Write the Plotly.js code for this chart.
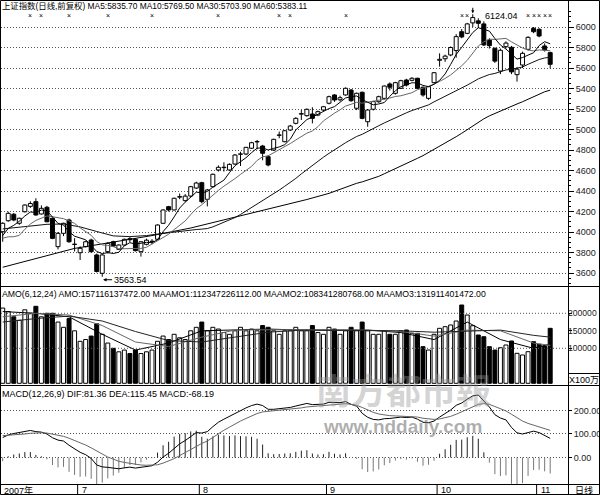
<!DOCTYPE html>
<html><head><meta charset="utf-8">
<script src="https://cdn.plot.ly/plotly-3.0.1.min.js"></script>
<style>body{margin:0;background:#fff}#chart{width:600px;height:495px}</style>
</head><body><div id="chart"></div>
<script>
// ---- price data (daily K line, index i = trading day from 2007-06-12) ----
const open = [4003,4110,4173,4085,4198,4250,4296,4176,4241,4134, 3857,3987,4117,3878,3798,3857,3922,3776,3597,3808,
  3905,3831,3873,3935,3929,3808,3880,3905,3929,4085, 4247,4215,4340,4306,4351,4429,4481,4319,4442,4605,
  4628,4605,4663,4758,4761,4817,4879,4839,4735,4800, 4943,4881,4995,5060,5150,5135,5151,5141,5190,5256,
  5337,5290,5337,5385,5207,5363,5076,5198,5271,5304, 5444,5353,5402,5483,5480,5500,5412,5304,5457,5675,
  5690,5727,5770,5954,5938,6040,6060,6030,5873,5792, 5570,5808,5802,5535,5629,5782,5987,5977,5815,5750];
const high = [4095,4198,4185,4140,4270,4300,4329,4260,4255,4140, 4000,4090,4130,3940,3860,3915,3935,3790,3785,3900,
  3915,3880,3935,3950,3940,3910,3935,3930,4075,4220, 4255,4335,4375,4370,4450,4490,4490,4420,4570,4650,
  4680,4670,4760,4783,4830,4880,4898,4850,4750,4910, 4980,4995,5045,5120,5190,5205,5217,5185,5230,5330,
  5345,5330,5410,5395,5360,5370,5200,5280,5330,5430, 5460,5465,5485,5495,5510,5505,5420,5425,5560,5743,
  5730,5810,5930,5980,6040,6124.04,6085,6055,5890,5800, 5790,5860,5815,5610,5760,5910,6000,5990,5840,5760];
const low = [3905,4100,4105,4070,4190,4235,4160,4170,4095,3930, 3830,3960,3895,3810,3727,3850,3800,3605,3563.54,3790,
  3855,3825,3865,3900,3810,3760,3870,3880,3920,4080, 4200,4210,4320,4295,4340,4420,4280,4250,4435,4590,
  4590,4600,4655,4644,4750,4810,4807,4700,4640,4790, 4915,4875,4985,5050,5093,5125,5060,5130,5180,5245,
  5270,5275,5330,5270,5190,5100,5027,5185,5260,5290, 5380,5340,5395,5420,5470,5395,5320,5290,5450,5613,
  5660,5715,5700,5890,5930,6000,5990,5815,5790,5650, 5540,5790,5540,5467,5600,5770,5940,5900,5760,5597];
const close = [4085,4182,4117,4134,4263,4278,4166,4231,4100,3938, 3987,4085,3905,3882,3841,3905,3808,3615,3776,3889,
  3863,3873,3929,3925,3818,3905,3920,3910,4068,4215, 4215,4329,4345,4350,4442,4478,4296,4410,4563,4631,
  4632,4660,4751,4762,4826,4871,4883,4768,4654,4904, 4945,4988,5034,5109,5155,5197,5109,5174,5222,5320,
  5288,5310,5402,5281,5353,5109,5190,5272,5320,5424, 5412,5457,5476,5434,5500,5402,5337,5418,5554,5685,
  5716,5800,5906,5903,6030,6092,6036,5825,5818,5667, 5773,5843,5562,5589,5743,5899,5954,5912,5777,5636];

const ma5 = [3965,4035,4065,4105,4156,4195,4192,4214,4208,4143, 4084,4068,4003,3959,3940,3924,3868,3810,3789,3799,
  3790,3803,3866,3896,3882,3890,3899,3896,3924,4004, 4066,4147,4234,4291,4336,4389,4382,4395,4438,4476,
  4506,4579,4647,4686,4725,4774,4818,4821,4800,4816, 4830,4852,4905,4996,5046,5097,5121,5149,5171,5204,
  5223,5263,5308,5320,5327,5291,5267,5241,5249,5263, 5324,5377,5418,5441,5456,5454,5430,5418,5442,5479,
  5542,5635,5732,5802,5871,5946,5993,5977,5960,5888, 5824,5785,5733,5687,5702,5727,5749,5819,5857,5836];
const ma10 = [3940,3953,3954,3967,4026,4078,4113,4139,4157,4149, 4140,4130,4109,4084,4041,4004,3968,3907,3874,3869,
  3857,3836,3838,3842,3840,3840,3851,3881,3910,3943, 3978,4023,4065,4108,4170,4227,4265,4315,4364,4406,
  4447,4481,4521,4562,4601,4640,4698,4734,4743,4771, 4802,4835,4863,4898,4931,4964,4986,5027,5084,5125,
  5160,5192,5229,5246,5266,5257,5265,5275,5285,5295, 5307,5322,5329,5345,5359,5389,5403,5418,5441,5468,
  5498,5532,5575,5622,5675,5744,5814,5855,5881,5879, 5885,5889,5855,5824,5795,5776,5767,5776,5772,5769];
const ma30 = [4030,null,null,null,4055,null,null,null,4075,null, null,4078,null,null,4050,null,null,4005,null,null,
  3962,null,null,3955,null,null,3965,null,3980,3987, 3991,3996,4004,4011,4017,4024,4028,4034,4050,4073,
  4094,4113,4141,4171,4204,4236,4271,4310,4339,4373, 4409,4446,4483,4523,4567,4610,4650,4692,4730,4767,
  4803,4836,4871,4902,4932,4953,4983,5012,5037,5064, 5090,5116,5140,5163,5185,5203,5218,5240,5270,5296,
  5322,5349,5378,5404,5433,5463,5494,5516,5536,5547, 5563,5581,5587,5597,5610,5636,5662,5683,5698,5705];
const ma60 = [3656,null,null,null,null,null,null,3755,null,null, null,null,null,3840,null,null,null,null,null,null,
  3902,null,null,null,null,null,null,3965,null,null, null,null,null,null,4039,null,null,null,null,null,
  null,4130,null,null,null,null,null,null,4225,null, null,null,null,null,null,4317,null,null,null,4377,
  4397,4416,4437,4457,4475,4489,4506,4523,4543,4568, 4592,4615,4641,4667,4694,4719,4745,4775,4805,4834,
  4865,4897,4930,4963,5000,5037,5072,5104,5133,5157, 5183,5208,5229,5249,5271,5295,5322,5347,5368,5384];

// ---- amount (AMO, unit 100万) ----
const amo = [215000,205000,190000,180000,210000,200000,220000,190000,200000,200000,
  175000,160000,185000,150000,120000,125000,135000,170000,140000,115000,
  100000,90000,95000,85000,95000,85000,90000,95000,120000,135000,
  125000,140000,130000,125000,150000,160000,175000,150000,160000,155000,
  145000,140000,150000,160000,150000,155000,150000,165000,160000,150000,
  140000,150000,150000,160000,150000,150000,165000,145000,140000,160000,
  155000,140000,150000,160000,150000,175000,150000,140000,140000,150000,
  140000,140000,150000,152300,142800,142800,104600,95100,140000,157100,
  161800,166600,178000,223700,195100,164600,138000,133100,104600,95100,
  101700,109400,120900,85700,80900,90300,118900,111400,106600,157100];
const maamo1 = [205000,null,null,null,null,null,200000,null,null,null,null,null,190000,null,null,null,null,null,140000,null,
  null,null,null,null,95000,null,null,null,null,null,115000,null,null,null,null,null,150000,null,null,null,
  null,null,152000,null,null,null,null,null,155000,null,null,null,null,null,152000,null,null,null,null,null,
  152000,null,null,null,null,null,152000,null,null,null,null,null,145000,null,null,null,null,null,125000,null,
  null,null,null,null,175000,null,null,null,null,null,125000,null,null,null,null,null,100000,null,null,112347];
const maamo2 = [190000,null,null,null,null,null,200000,null,null,null,null,null,195000,null,null,null,null,null,165000,null,
  null,null,null,null,118000,null,null,null,null,null,105000,null,null,null,null,null,132000,null,null,null,
  null,null,152000,null,null,null,null,null,153000,null,null,null,null,null,152000,null,null,null,null,null,
  152000,null,null,null,null,null,152000,null,null,null,null,null,148000,null,null,null,null,null,135000,null,
  null,null,null,null,152000,null,null,null,null,null,150000,null,null,null,null,null,115000,null,null,108341];
const maamo3 = [175000,null,null,null,null,null,185000,null,null,null,null,null,192000,null,null,null,null,null,178000,null,
  null,null,null,null,148000,null,null,null,null,null,122000,null,null,null,null,null,118000,null,null,null,
  null,null,132000,null,null,null,null,null,146000,null,null,null,null,null,152000,null,null,null,null,null,
  152000,null,null,null,null,null,152000,null,null,null,null,null,150000,null,null,null,null,null,146000,null,
  null,null,null,null,150000,null,null,null,null,null,152000,null,null,null,null,null,137000,null,null,131911];

// ---- MACD(12,26,9) ----
const dif = [85,96,102,106,112,115,110,108,100,84, 74,70,52,36,22,12,-4,-32,-40,-42,
  -46,-48,-44,-41,-45,-42,-38,-35,-20,2, 18,40,58,72,90,106,104,110,131,150,
  163,175,190,200,211,221,227,221,205,205, 207,210,213,219,225,230,225,225,227,235,
  233,233,238,226,219,188,171,162,160,165, 166,170,172,170,172,163,150,148,155,172,
  186,202,222,232,248,262,266,240,215,182, 168,160,128,105,100,106,112,106,95,81.36];
const dea = [93,94,95,97,100,103,105,105,104,100, 95,90,82,73,63,53,41,27,13,2,
  -7,-16,-21,-25,-29,-32,-33,-33,-31,-24, -16,-5,8,21,35,49,60,70,86,101,
  116,129,143,155,166,177,187,194,196,198, 200,202,204,207,211,215,217,218,220,223,
  225,227,229,226,222,213,202,192,185,181, 178,177,176,175,174,172,167,164,162,164,
  168,175,184,194,205,216,226,229,226,217, 208,198,184,168,155,145,138,132,124,115.45];
const macd = [-16,5,13,17,23,23,11,5,-8,-32, -42,-40,-61,-74,-82,-81,-91,-117,-107,-89,
  -77,-65,-46,-32,-32,-21,-10,-3,21,52, 67,89,100,103,111,114,88,80,90,97,
  94,91,94,91,90,88,80,55,18,14, 15,17,18,24,29,31,17,13,14,24,
  16,13,18,0,-6,-50,-62,-59,-51,-33, -24,-13,-7,-9,-4,-18,-35,-31,-14,16,
  35,54,75,76,86,92,80,22,-22,-71, -79,-76,-112,-126,-109,-78,-53,-52,-59,-68.19];

// ---- labels ----
const titleText = '上证指数(日线,前复权) MA5:5835.70 MA10:5769.50 MA30:5703.90 MA60:5383.11';
const amoText = 'AMO(6,12,24) AMO:157116137472.00 MAAMO1:112347226112.00 MAAMO2:108341280768.00 MAAMO3:131911401472.00';
const macdText = 'MACD(12,26,9) DIF:81.36 DEA:115.45 MACD:-68.19';
const priceTicks = [3600,3800,4000,4200,4400,4600,4800,5000,5200,5400,5600,5800,6000];
const amoTicks = [100000,150000,200000];
const macdTicks = [0,100,200];
const monthIdx = [14,36,59,79,97];
const monthLabels = ['7','8','9','10','11'];
const markIdx = [5,7,12,19,27,39,50,52,62,83,84,95,96,97,98,99];
const lowIdx = 18, highIdx = 85;

// ---- build traces ----
const idx = close.map((_, i) => i);
const isUp = idx.map(i => close[i] >= open[i]);
const wx = [], wy = [];
idx.forEach(i => {
  const t = Math.max(open[i], close[i]), b = Math.min(open[i], close[i]);
  wx.push(i, i, null, i, i, null); wy.push(high[i], t, null, b, low[i], null);
});
const FONT = 'Liberation Sans, Arial, Noto Sans CJK SC, sans-serif';
const traces = [
  {type:'scatter', mode:'lines', x:wx, y:wy, line:{color:'#000', width:1}, xaxis:'x', yaxis:'y'},
  {type:'bar', x:idx, base:idx.map(i=>Math.min(open[i],close[i])), y:idx.map(i=>Math.max(Math.abs(close[i]-open[i]),4)),
   width:0.72, marker:{color:isUp.map(u=>u?'#fff':'#000'), line:{color:'#000', width:1}}, xaxis:'x', yaxis:'y'},
  {type:'scatter', mode:'lines', x:idx, y:ma60, connectgaps:true, line:{color:'#000', width:1}, xaxis:'x', yaxis:'y'},
  {type:'scatter', mode:'lines', x:idx, y:ma30, connectgaps:true, line:{color:'#111', width:1}, xaxis:'x', yaxis:'y'},
  {type:'scatter', mode:'lines', x:idx, y:ma10, line:{color:'#666', width:1}, xaxis:'x', yaxis:'y'},
  {type:'scatter', mode:'lines', x:idx, y:ma5, line:{color:'#000', width:1}, xaxis:'x', yaxis:'y'},
  {type:'bar', x:idx, y:amo, width:0.72, marker:{color:isUp.map(u=>u?'#fff':'#000'), line:{color:'#000', width:1}}, xaxis:'x', yaxis:'y2'},
  {type:'scatter', mode:'lines', x:idx, y:maamo1, connectgaps:true, line:{color:'#000', width:1}, xaxis:'x', yaxis:'y2'},
  {type:'scatter', mode:'lines', x:idx, y:maamo2, connectgaps:true, line:{color:'#666', width:1}, xaxis:'x', yaxis:'y2'},
  {type:'scatter', mode:'lines', x:idx, y:maamo3, connectgaps:true, line:{color:'#222', width:1}, xaxis:'x', yaxis:'y2'}
];
const hpx = [], hpy = [], hnx = [], hny = [];
idx.forEach(i => { if (macd[i] >= 0) { hpx.push(i,i,null); hpy.push(0,macd[i],null); } else { hnx.push(i,i,null); hny.push(0,macd[i],null); } });
traces.push({type:'scatter', mode:'lines', x:hpx, y:hpy, line:{color:'#222', width:1}, xaxis:'x', yaxis:'y3'});
traces.push({type:'scatter', mode:'lines', x:hnx, y:hny, line:{color:'#777', width:1}, xaxis:'x', yaxis:'y3'});
traces.push({type:'scatter', mode:'lines', x:idx, y:dif, line:{color:'#000', width:1}, xaxis:'x', yaxis:'y3'});
traces.push({type:'scatter', mode:'lines', x:idx, y:dea, line:{color:'#666', width:1}, xaxis:'x', yaxis:'y3'});

// ---- layout ----
const W = 600, H = 495;
const PX = v => v / W, PY = v => 1 - v / H;
const XR = [-0.307, 102.22];
const minorVals = [];
for (let v = 3500; v <= 6200; v += 50) if (v % 200 !== 0) minorVals.push(v);
const tickFont = {family: FONT, size: 9, color: '#222'};
const ann = (text, x, y, xa, ya, extra) => Object.assign({xref:'paper', yref:'paper', x:PX(x), y:PY(y), text, showarrow:false, xanchor:xa, yanchor:ya, font:{family:FONT, size:9, color:'#000'}, borderpad:0}, extra||{});
const annotations = [
  ann(titleText, 1, 0, 'left', 'top', {font:{family:FONT, size:8.4, color:'#000'}}),
  ann(amoText, 1, 288, 'left', 'top', {font:{family:FONT, size:8.7, color:'#000'}}),
  ann(macdText, 1, 388, 'left', 'top'),
  ann('X100万', 584, 380, 'center', 'middle'),
  ann('日线', 584, 490, 'center', 'middle'),
  ann('2007年', 3, 490, 'left', 'middle'),
  {xref:'x', yref:'y', x:lowIdx+0.15, y:low[lowIdx], ax:9, ay:0, axref:'pixel', ayref:'pixel', text:'3563.54', showarrow:true, arrowhead:2, arrowsize:0.7, arrowwidth:1, arrowcolor:'#000', standoff:0, xanchor:'left', yanchor:'middle', yshift:-3, font:{family:FONT,size:9,color:'#000'}},
  {xref:'x', yref:'y', x:highIdx+1.9, y:high[highIdx], text:'6124.04', showarrow:false, xanchor:'left', yanchor:'middle', font:{family:FONT,size:9,color:'#000'}, yshift:-2},
  {xref:'x', yref:'y', x:highIdx, y:high[highIdx], ax:0, ay:-8, text:'', showarrow:true, arrowhead:2, arrowsize:0.6, arrowwidth:1, arrowcolor:'#000', standoff:1},
  ann('南方都市報', 403, 388, 'center', 'middle', {font:{family:'Noto Sans CJK TC, Noto Sans CJK SC', size:35, color:'rgba(150,150,150,0.42)', weight:700}}),
  ann('www.nddaily.com', 402, 426, 'center', 'middle', {font:{family:'Liberation Sans, Arial', size:19, color:'rgba(120,120,120,0.6)', weight:700}})
];
amoTicks.forEach(v => annotations.push({xref:'paper', yref:'y2', x:PX(599), y:v, text:String(v), showarrow:false, xanchor:'right', yanchor:'middle', font:{family:FONT, size:8.6, color:'#222'}}));
monthIdx.forEach((m, k) => annotations.push({xref:'x', yref:'paper', x:m-0.1, y:PY(490), text:monthLabels[k], showarrow:false, xanchor:'left', yanchor:'middle', font:{family:FONT,size:9,color:'#000'}}));
markIdx.forEach(m => annotations.push({xref:'x', yref:'paper', x:m, y:PY(16), text:'×', showarrow:false, xanchor:'center', yanchor:'middle', font:{family:FONT,size:7,color:'#000'}}));

const line = (x0,y0,x1,y1,extra) => Object.assign({type:'line', xref:'paper', yref:'paper', x0:PX(x0), y0:PY(y0), x1:PX(x1), y1:PY(y1), line:{color:'#000', width:1}}, extra||{});
const shapes = [
  {type:'rect', xref:'paper', yref:'paper', x0:PX(0.5), x1:PX(599.5), y0:PY(0.5), y1:PY(494.5), line:{color:'#000', width:1}},
  line(568.5,0,568.5,495),
  line(0,286.5,600,286.5), line(0,385.5,600,385.5), line(0,484.5,600,484.5),
  line(568.5,373.5,600,373.5)
];
[100000,200000].forEach(v => shapes.push({type:'line', xref:'x', yref:'y2', x0:XR[0], x1:XR[1], y0:v, y1:v, line:{color:'#555', width:1, dash:'1px,2px'}}));
monthIdx.forEach(m => shapes.push({type:'line', xref:'x', yref:'paper', x0:m-0.45, x1:m-0.45, y0:PY(484.5), y1:PY(495), line:{color:'#000', width:1}}));

const layout = {
  width:W, height:H, margin:{l:0,r:0,t:0,b:0}, paper_bgcolor:'#fff', plot_bgcolor:'#fff', showlegend:false,
  bargap:0, barmode:'overlay',
  xaxis:{domain:[PX(1),PX(568)], range:XR, anchor:'y3', showticklabels:false, ticks:'', showgrid:false, zeroline:false, showline:false},
  yaxis:{domain:[PY(286),1], range:[3473.2,6263.4], side:'right', anchor:'x', tickvals:priceTicks, ticks:'outside', ticklen:5, tickcolor:'#000', tickfont:tickFont,
    showgrid:true, gridcolor:'#555', griddash:'1px,2px', gridwidth:1, zeroline:false, showline:false,
    minor:{tickvals:minorVals, ticks:'outside', ticklen:2, tickcolor:'#000', showgrid:false}},
  yaxis2:{domain:[PY(385),PY(287)], range:[-4857,275143], side:'right', anchor:'x', tickvals:amoTicks, showticklabels:false, ticks:'outside', ticklen:3, tickcolor:'#000', showgrid:false, zeroline:false, showline:false},
  yaxis3:{domain:[PY(484),PY(386)], range:[-112.8,304.2], side:'right', anchor:'x', tickvals:macdTicks, ticktext:macdTicks.map(v=>v.toFixed(2)), ticks:'outside', ticklen:3, tickcolor:'#000', tickfont:tickFont,
    showgrid:true, gridcolor:'#555', griddash:'1px,2px', gridwidth:1, zeroline:false, showline:false},
  annotations, shapes
};
Plotly.newPlot('chart', traces, layout, {staticPlot:true, displayModeBar:false});
</script></body></html>
